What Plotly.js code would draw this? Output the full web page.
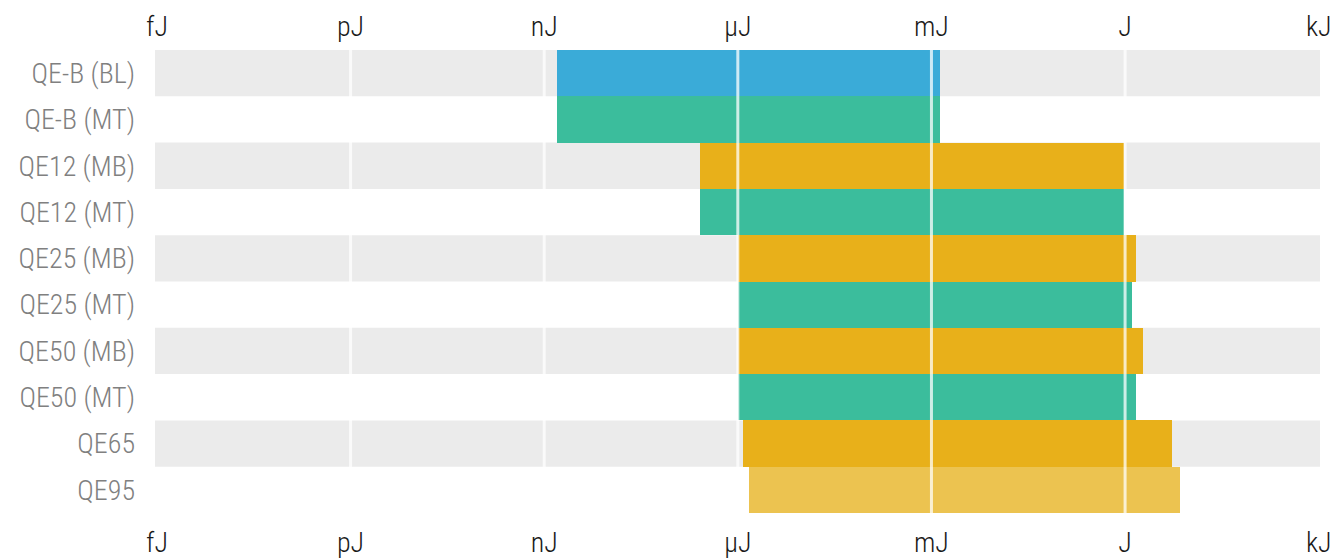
<!DOCTYPE html>
<html>
<head>
<meta charset="utf-8">
<script src="https://cdn.plot.ly/plotly-3.0.1.min.js"></script>
<style>html,body{margin:0;padding:0;background:#fff;}#chart{width:1339px;height:560px;}</style>
</head>
<body>
<div id="chart"></div>
<script>
const categories = ["QE-B (BL)", "QE-B (MT)", "QE12 (MB)", "QE12 (MT)", "QE25 (MB)", "QE25 (MT)", "QE50 (MB)", "QE50 (MT)", "QE65", "QE95"];
const startJ = [1.6e-9, 1.6e-9, 2.63e-7, 2.63e-7, 1.0e-6, 1.0e-6, 1.0e-6, 1.02e-6, 1.22e-6, 1.5e-6];
const endJ = [1.37e-3, 1.37e-3, 0.97, 0.97, 1.48, 1.28, 1.9, 1.48, 5.4, 7.2];
const barColors = ["#3AABD8", "#3BBD9C", "#E8B01A", "#3BBD9C", "#E8B01A", "#3BBD9C", "#E8B01A", "#3BBD9C", "#E8B01A", "#ECC350"];
const tickVals = [1e-15, 1e-12, 1e-9, 1e-6, 1e-3, 1, 1e3];
const tickText = ["fJ", "pJ", "nJ", "µJ", "mJ", "J", "kJ"];

const FONT = "'Roboto Condensed', Roboto, sans-serif";

const trace = {
  type: "bar",
  orientation: "h",
  y: categories,
  base: startJ,
  x: endJ.map((e, i) => e - startJ[i]),
  marker: {color: barColors, line: {width: 0}},
  width: 1,
  hoverinfo: "none",
  showlegend: false
};
const dummy = {
  type: "scatter", mode: "markers", x: [1e-6], y: [categories[0]],
  xaxis: "x2", yaxis: "y", marker: {opacity: 0}, hoverinfo: "none", showlegend: false
};

const shapes = [];
categories.forEach((c, i) => {
  if (i % 2 === 0) {
    shapes.push({type: "rect", layer: "below", xref: "paper", x0: 0, x1: 1, yref: "y", y0: i - 0.5, y1: i + 0.5,
      fillcolor: "#EBEBEB", line: {width: 0}});
  }
});
tickVals.slice(1, -1).forEach(v => {
  shapes.push({type: "line", layer: "above", xref: "x", x0: v, x1: v, yref: "paper", y0: 0, y1: 1,
    line: {color: "rgba(255,255,255,0.75)", width: 3}});
});

const xCommon = {
  type: "log", range: [-15.03, 3.02], tickvals: tickVals, ticktext: tickText,
  showgrid: false, zeroline: false, showline: false, ticks: "", automargin: false,
  tickfont: {family: FONT, size: 28, weight: 300, color: "#1a1a1a"}, fixedrange: true
};

const layout = {
  width: 1339, height: 560,
  margin: {l: 155, r: 19, t: 50, b: 47, pad: 0},
  paper_bgcolor: "#fff", plot_bgcolor: "rgba(0,0,0,0)",
  bargap: 0,
  xaxis: Object.assign({}, xCommon, {side: "bottom", ticklabelstandoff: 10}),
  xaxis2: Object.assign({}, xCommon, {side: "top", overlaying: "x", matches: "x", ticklabelstandoff: 7}),
  yaxis: {
    type: "category", autorange: false, range: [categories.length - 0.5, -0.5],
    showgrid: false, zeroline: false, showline: false, automargin: false,
    ticks: "", tickfont: {family: FONT, size: 28, weight: 300, color: "#808080"}, ticklabelstandoff: 19, fixedrange: true
  },
  shapes: shapes
};

Plotly.newPlot("chart", [trace, dummy], layout, {displayModeBar: false, staticPlot: true});
</script>
</body>
</html>
